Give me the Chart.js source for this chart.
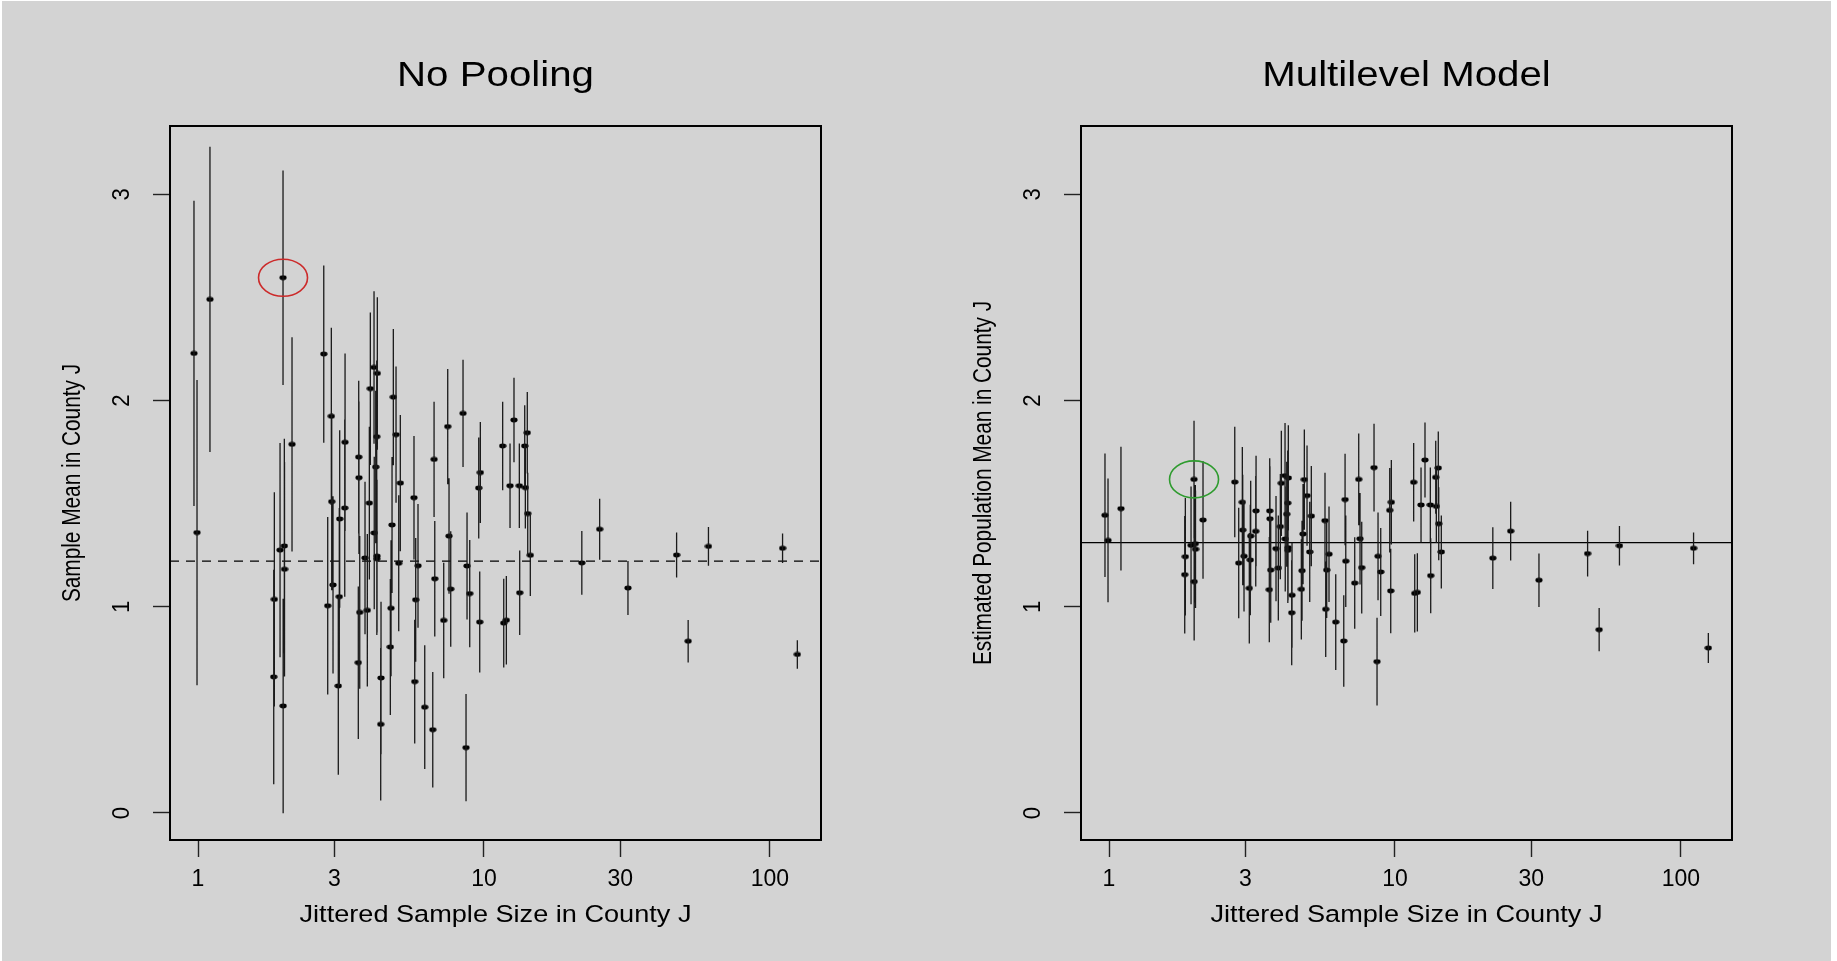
<!DOCTYPE html>
<html>
<head>
<meta charset="utf-8">
<title>No Pooling vs Multilevel Model</title>
<script src="https://cdn.jsdelivr.net/npm/chart.js@4"></script>
<style>
  html, body { margin: 0; padding: 0; background: #ffffff; }
  body { width: 1837px; height: 961px; position: relative; overflow: hidden; }
  #bg { position: absolute; left: 2px; top: 1px; width: 1829px; height: 960px; background: #d3d3d3; }
  canvas { position: absolute; top: 0; }
  #left { left: 0; }
  #right { left: 918px; }
</style>
</head>
<body>
<div id="bg"></div>
<canvas id="left" width="918" height="961"></canvas>
<canvas id="right" width="919" height="961"></canvas>
<script>
// jittered sample size per county (same jitter in both panels)
const sampleSize = [
  0.968, 0.992, 1.101,
  1.840, 1.849, 1.936, 1.983, 1.985, 2.004, 2.007, 2.132,
  2.753, 2.842, 2.926, 2.935, 2.966, 3.095, 3.120, 3.130, 3.260, 3.268,
  3.636, 3.648, 3.655, 3.678, 3.838, 3.910, 3.974, 4.006, 4.127, 4.134,
  4.184, 4.217, 4.221, 4.228, 4.238, 4.355, 4.366,
  4.706, 4.733, 4.771, 4.821, 4.927, 5.035, 5.100,
  5.694, 5.727, 5.773, 5.881, 6.209,
  6.623, 6.693, 6.731, 7.234, 7.471, 7.550, 7.654,
  8.451, 8.658, 8.728, 8.920, 9.590, 9.668, 9.715,
  11.63, 11.73, 11.98, 12.34, 12.74, 13.30, 13.34,
  13.89, 13.96, 14.18, 14.23, 14.53,
  22.0, 25.4, 31.9, 47.2, 51.8, 61.0, 110.8, 124.8
];

// left panel: county sample mean and its standard error
const noPoolMean = [
  2.229, 1.360, 2.491,
  0.660, 1.036, 1.275, 2.596, 0.519, 1.295, 1.182, 1.788,
  2.226, 1.005, 1.924, 1.510, 1.106, 0.616, 1.049, 1.426, 1.479, 1.798,
  0.729, 1.726, 1.626, 0.973, 1.237, 0.983, 1.503, 2.058, 2.161, 1.358,
  1.678, 1.825, 1.233, 1.246, 2.132, 0.430, 0.655,
  0.805, 0.993, 1.397, 2.017, 1.835, 1.211, 1.600,
  1.529, 0.637, 1.034, 1.199, 0.513,
  0.404, 1.715, 1.136, 0.934, 1.874, 1.343, 1.086,
  1.938, 0.317, 1.198, 1.064, 1.576, 0.926, 1.651,
  1.780, 0.921, 0.935, 1.587, 1.906, 1.587, 1.068,
  1.780, 1.578, 1.844, 1.452, 1.250,
  1.213, 1.376, 1.091, 1.251, 0.833, 1.293, 1.284, 0.769
];
const noPoolSe = [
  0.74, 0.74, 0.74,
  0.52, 0.52, 0.52, 0.52, 0.52, 0.52, 0.52, 0.52,
  0.43, 0.43, 0.43, 0.43, 0.43, 0.43, 0.43, 0.43, 0.43, 0.43,
  0.37, 0.37, 0.37, 0.37, 0.37, 0.37, 0.37, 0.37, 0.37, 0.37,
  0.37, 0.37, 0.37, 0.37, 0.37, 0.37, 0.37,
  0.33, 0.33, 0.33, 0.33, 0.33, 0.33, 0.33,
  0.30, 0.30, 0.30, 0.30, 0.30,
  0.28, 0.28, 0.28, 0.28, 0.28, 0.28, 0.28,
  0.26, 0.26, 0.26, 0.26, 0.245, 0.245, 0.245,
  0.215, 0.215, 0.215, 0.205, 0.205, 0.205, 0.205,
  0.198, 0.198, 0.198, 0.198, 0.198,
  0.155, 0.148, 0.131, 0.109, 0.103, 0.094, 0.072, 0.069
];

// right panel: multilevel estimate and its standard error
const mlmMean = [
  1.444, 1.322, 1.476,
  1.156, 1.243, 1.298, 1.618, 1.122, 1.306, 1.279, 1.421,
  1.605, 1.212, 1.507, 1.372, 1.245, 1.090, 1.227, 1.343, 1.366, 1.465,
  1.083, 1.465, 1.427, 1.178, 1.282, 1.188, 1.389, 1.599, 1.636, 1.329,
  1.449, 1.503, 1.274, 1.287, 1.625, 0.971, 1.056,
  1.085, 1.175, 1.353, 1.617, 1.539, 1.266, 1.440,
  1.418, 0.988, 1.178, 1.255, 0.926,
  0.834, 1.520, 1.221, 1.115, 1.618, 1.330, 1.190,
  1.675, 0.734, 1.245, 1.169, 1.468, 1.077, 1.507,
  1.604, 1.065, 1.070, 1.494, 1.712, 1.494, 1.151,
  1.628, 1.487, 1.673, 1.403, 1.266,
  1.236, 1.367, 1.129, 1.258, 0.889, 1.296, 1.284, 0.800
];
const mlmSe = [
  0.30, 0.30, 0.30,
  0.285, 0.285, 0.285, 0.285, 0.285, 0.285, 0.285, 0.285,
  0.268, 0.268, 0.268, 0.268, 0.268, 0.268, 0.268, 0.268, 0.268, 0.268,
  0.255, 0.255, 0.255, 0.255, 0.255, 0.255, 0.255, 0.255, 0.255, 0.255,
  0.255, 0.255, 0.255, 0.255, 0.255, 0.255, 0.255,
  0.243, 0.243, 0.243, 0.243, 0.243, 0.243, 0.243,
  0.232, 0.232, 0.232, 0.232, 0.232,
  0.222, 0.222, 0.222, 0.222, 0.222, 0.222, 0.222,
  0.213, 0.213, 0.213, 0.213, 0.205, 0.205, 0.205,
  0.19, 0.19, 0.19, 0.182, 0.182, 0.182, 0.182,
  0.177, 0.177, 0.177, 0.177, 0.177,
  0.15, 0.142, 0.13, 0.111, 0.105, 0.096, 0.077, 0.073
];

const poolMean = 1.222;   // dashed line, left
const grandMean = 1.311;  // solid line, right
const highlight = 6;      // county circled in both panels

const xTicks = [1, 3, 10, 30, 100];
const yTicks = [0, 1, 2, 3];
const xMin = 0.798, xMax = 151;
const yMin = -0.131, yMax = 3.332;

const textFont = "'Liberation Sans', Arial, sans-serif";

// small horizontal dot like the original pch
function dotImage() {
  const c = document.createElement('canvas');
  c.width = 8; c.height = 6;
  const g = c.getContext('2d');
  g.fillStyle = '#000';
  g.beginPath();
  g.ellipse(4, 3, 3.6, 2.4, 0, 0, Math.PI * 2);
  g.fill();
  return c;
}
const dot = dotImage();

function barData(means, ses) {
  const out = [];
  sampleSize.forEach((n, i) => {
    out.push({x: n, y: means[i] - ses[i]}, {x: n, y: means[i] + ses[i]}, {x: n, y: null});
  });
  return out;
}

// text squeezed/stretched along its own direction, the old png was resampled
function putText(ctx, text, x, y, size, sx, rot, baseline) {
  ctx.save();
  ctx.translate(x, y);
  if (rot) ctx.rotate(rot);
  ctx.scale(sx, 1);
  ctx.font = size + 'px ' + textFont;
  ctx.fillStyle = '#000';
  ctx.textAlign = 'center';
  ctx.textBaseline = baseline;
  ctx.fillText(text, 0, 0);
  ctx.restore();
}

// frame, titles, rotated y labels and the highlight ring
const framePlugin = {
  id: 'frame',
  afterDraw(chart, args, opts) {
    const {ctx, chartArea: a, scales: {x, y}} = chart;
    const mid = (a.left + a.right) / 2;
    ctx.save();
    ctx.strokeStyle = '#000';
    ctx.lineWidth = 2;
    ctx.strokeRect(a.left, a.top, a.right - a.left, a.bottom - a.top);

    putText(ctx, opts.title, mid, 86, 35, 1.15, 0, 'alphabetic');
    putText(ctx, 'Jittered Sample Size in County J', mid, 922, 24.5, 1.107, 0, 'alphabetic');
    putText(ctx, opts.yTitle, a.left - 97, (a.top + a.bottom) / 2, 26.5, 0.785, -Math.PI / 2, 'middle');

    yTicks.forEach(v => {
      putText(ctx, String(v), a.left - 48, y.getPixelForValue(v), 24, 0.92, -Math.PI / 2, 'middle');
    });

    const px = x.getPixelForValue(sampleSize[highlight]);
    const py = y.getPixelForValue(opts.means[highlight]);
    ctx.strokeStyle = opts.ring;
    ctx.lineWidth = 1.6;
    ctx.beginPath();
    ctx.ellipse(px, py, 24.5, 18.5, 0, 0, Math.PI * 2);
    ctx.stroke();
    ctx.restore();
  }
};

function makePanel(id, title, yTitle, means, ses, refY, refDash, ring, leftEdge, rightPad) {
  const tickGrid = {
    drawOnChartArea: false, drawTicks: true, tickLength: 17,
    tickColor: '#222', tickWidth: 1.4
  };
  return new Chart(document.getElementById(id), {
    type: 'scatter',
    data: {
      datasets: [
        {
          data: barData(means, ses), showLine: true, spanGaps: false,
          pointRadius: 0, borderColor: '#1a1a1a', borderWidth: 1.3
        },
        {
          data: sampleSize.map((n, i) => ({x: n, y: means[i]})),
          pointStyle: dot, pointRadius: 3, showLine: false
        },
        {
          data: [{x: xMin, y: refY}, {x: xMax, y: refY}], showLine: true,
          pointRadius: 0, borderColor: '#000', borderWidth: 1.3, borderDash: refDash
        }
      ]
    },
    options: {
      responsive: false,
      animation: false,
      layout: { padding: { left: 0, right: rightPad, top: 126, bottom: 0 } },
      plugins: {
        legend: { display: false },
        tooltip: { enabled: false },
        title: { display: false },
        frame: { means: means, ring: ring, title: title, yTitle: yTitle }
      },
      scales: {
        x: {
          type: 'logarithmic', min: xMin, max: xMax,
          afterBuildTicks: s => { s.ticks = xTicks.map(v => ({value: v})); },
          afterFit: s => { s.height = 121; },
          ticks: {
            callback: v => String(v), color: '#000', padding: 9,
            maxRotation: 0, autoSkip: false,
            font: { family: textFont, size: 23 }
          },
          grid: tickGrid,
          border: { display: false },
          title: { display: false }
        },
        y: {
          type: 'linear', min: yMin, max: yMax,
          afterBuildTicks: s => { s.ticks = yTicks.map(v => ({value: v})); },
          afterFit: s => { s.width = leftEdge; },
          ticks: { display: false },
          grid: tickGrid,
          border: { display: false },
          title: { display: false }
        }
      }
    },
    plugins: [framePlugin]
  });
}

makePanel('left', 'No Pooling', 'Sample Mean in County J',
  noPoolMean, noPoolSe, poolMean, [9, 7], '#cc2a2a', 170, 97);
makePanel('right', 'Multilevel Model', 'Estimated Population Mean in County J',
  mlmMean, mlmSe, grandMean, [], '#2e9b2e', 163, 105);
</script>
</body>
</html>
